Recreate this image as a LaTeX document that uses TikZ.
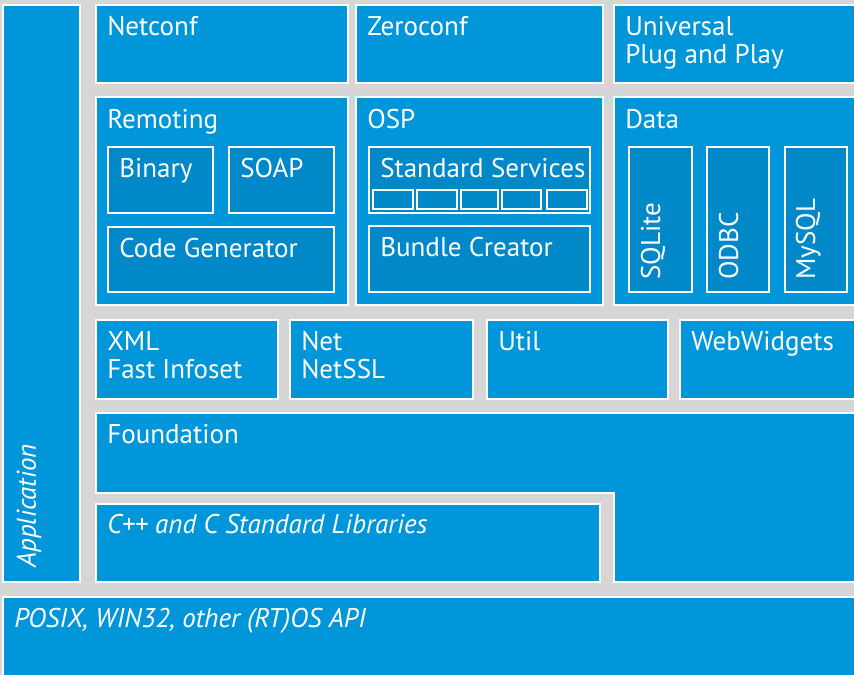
\documentclass[tikz,border=0pt]{standalone}
\usepackage{fontspec}
\setmainfont{PT Sans}
\usetikzlibrary{positioning, fit, calc}

\definecolor{pocoblue}{RGB}{0,150,217}
\definecolor{pocodark}{RGB}{0,136,200}
\definecolor{pocogrey}{RGB}{214,214,214}

\tikzset{
  layer/.style={fill=pocoblue, draw=white, line width=1.1pt, inner sep=0pt, outer sep=0pt},
  part/.style={fill=pocodark, draw=white, line width=1.1pt, inner sep=0pt, outer sep=0pt},
  lbl/.style={text=white, anchor=base west, align=left, inner sep=0pt,
    font=\fontsize{20.3}{21}\selectfont},
  ilbl/.style={lbl, font=\fontsize{20.3}{21}\selectfont\itshape},
  vlbl/.style={lbl, rotate=90}
}

\begin{document}
\begin{tikzpicture}[x=0.75pt, y=-0.75pt]
    \clip (0,0) rectangle (854,675);
    \fill[pocogrey] (0,0) rectangle (854,675);

    % Draw the application column and the OS layer
    \node[layer, fit={(3,5) (80,582)}] (app) {};
    \node[layer, fit={(3,597) (870,690)}] (posix) {};

    % Draw top row
    \node[layer, fit={(96,5) (348,83)}] (netconf) {};
    \node[layer, fit={(356,5) (603,83)}] (zeroconf) {};
    \node[layer, fit={(614,5) (870,83)}] (upnp) {};

    % Draw middle row with sub parts
    \node[layer, fit={(96,97) (348,305)}] (remoting) {};
    \node[part, fit={(108,147) (213,213)}] (binary) {};
    \node[part, fit={(229,147) (334,213)}] (soap) {};
    \node[part, fit={(108,227) (334,292)}] (codegen) {};

    \node[layer, fit={(356,97) (603,305)}] (osp) {};
    \node[part, fit={(369,147) (590,213)}] (services) {};
    \foreach \i/\a/\b in {1/373/413, 2/417/457, 3/461/498, 4/502/541, 5/547/587}
        \node[part, fit={(\a,190) (\b,209)}] (slot\i) {};
    \node[part, fit={(369,226) (590,292)}] (bundle) {};

    \node[layer, fit={(614,97) (870,305)}] (data) {};
    \node[part, fit={(629,147) (692,292)}] (sqlite) {};
    \node[part, fit={(707,147) (769,292)}] (odbc) {};
    \node[part, fit={(785,147) (847,292)}] (mysql) {};

    % Draw the row of libraries
    \node[layer, fit={(96,320) (278,399)}] (xml) {};
    \node[layer, fit={(290,320) (473,399)}] (net) {};
    \node[layer, fit={(487,320) (668,399)}] (util) {};
    \node[layer, fit={(680,320) (870,399)}] (webwidgets) {};

    % Foundation is an L shape
    \draw[layer] (96,413) -- (870,413) -- (870,582) -- (614,582) -- (614,493) -- (96,493) -- cycle;
    \coordinate (foundation) at (96,413);
    \node[layer, fit={(96,504) (600,582)}] (stdlib) {};

    % Add the texts
    \node[lbl] (netconftxt) at ($(netconf.north west)+(11,30)$) {Netconf};
    \node[lbl] (zeroconftxt) at ($(zeroconf.north west)+(11,30)$) {Zeroconf};
    \node[lbl, anchor=north west] (upnptxt) at ($(upnp.north west)+(11,11)$) {Universal\\Plug and Play};
    \node[lbl] (remotingtxt) at ($(remoting.north west)+(11,31)$) {Remoting};
    \node[lbl] (binarytxt) at ($(binary.north west)+(11,30)$) {Binary};
    \node[lbl] (soaptxt) at ($(soap.north west)+(11,30)$) {SOAP};
    \node[lbl] (codegentxt) at ($(codegen.north west)+(11,30)$) {Code Generator};
    \node[lbl] (osptxt) at ($(osp.north west)+(11,31)$) {OSP};
    \node[lbl] (servicestxt) at ($(services.north west)+(11,30)$) {Standard Services};
    \node[lbl] (bundletxt) at ($(bundle.north west)+(11,30)$) {Bundle Creator};
    \node[lbl] (datatxt) at ($(data.north west)+(11,31)$) {Data};
    \node[vlbl] (sqlitetxt) at ($(sqlite.south west)+(31,-12)$) {SQLite};
    \node[vlbl] (odbctxt) at ($(odbc.south west)+(31,-12)$) {ODBC};
    \node[vlbl] (mysqltxt) at ($(mysql.south west)+(30,-12)$) {MySQL};
    \node[lbl, anchor=north west] (xmltxt) at ($(xml.north west)+(11,11)$) {XML\\Fast Infoset};
    \node[lbl, anchor=north west] (nettxt) at ($(net.north west)+(11,11)$) {Net\\NetSSL};
    \node[lbl] (utiltxt) at ($(util.north west)+(11,30)$) {Util};
    \node[lbl] (webwidgetstxt) at ($(webwidgets.north west)+(11,30)$) {WebWidgets};
    \node[lbl] (foundationtxt) at ($(foundation)+(11,30)$) {Foundation};
    \node[ilbl] (stdlibtxt) at ($(stdlib.north west)+(11,29)$) {C++ and C Standard Libraries};
    \node[ilbl] (posixtxt) at ($(posix.north west)+(11,30)$) {POSIX, WIN32, other (RT)OS API};
    \node[ilbl, rotate=90] (apptxt) at ($(app.south west)+(33,-14)$) {Application};
\end{tikzpicture}
\end{document}
